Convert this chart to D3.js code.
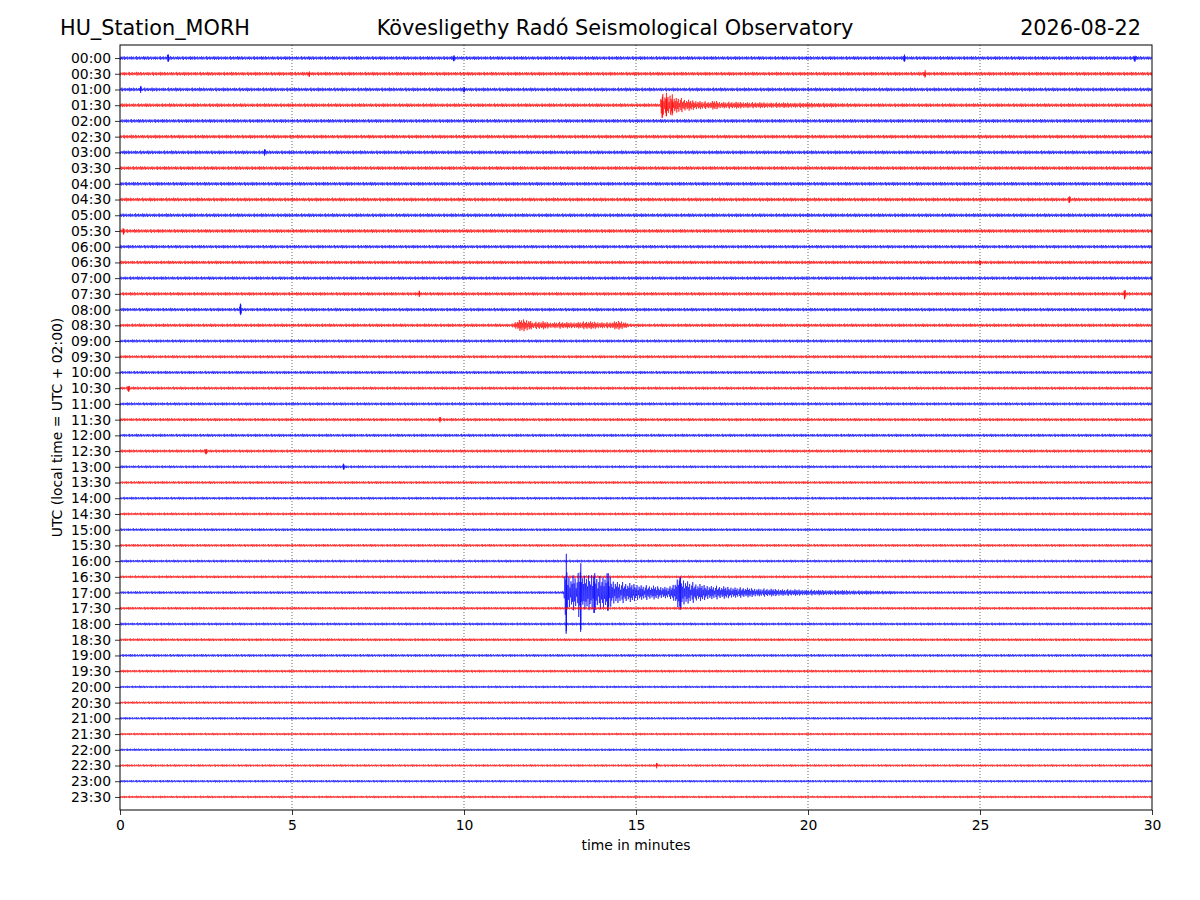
<!DOCTYPE html>
<html>
<head>
<meta charset="utf-8">
<script src="https://cdn.jsdelivr.net/npm/d3@7"></script>
<style>
  body { margin: 0; background: #fff; }
  svg { display: block; font-family: "DejaVu Sans", sans-serif; }
  .tick text { font-size: 13.9px; fill: #000; font-family: "DejaVu Sans", sans-serif; }
</style>
</head>
<body>
<svg id="heli" width="1200" height="900"></svg>
<script>
// --- Données ---
const station = "HU_Station_MORH";
const observatory = "Kövesligethy Radó Seismological Observatory";
const day = "2026-08-22";

const rowLabels = [
  "00:00","00:30","01:00","01:30","02:00","02:30","03:00","03:30",
  "04:00","04:30","05:00","05:30","06:00","06:30","07:00","07:30",
  "08:00","08:30","09:00","09:30","10:00","10:30","11:00","11:30",
  "12:00","12:30","13:00","13:30","14:00","14:30","15:00","15:30",
  "16:00","16:30","17:00","17:30","18:00","18:30","19:00","19:30",
  "20:00","20:30","21:00","21:30","22:00","22:30","23:00","23:30"
];
const xTicks = [0, 5, 10, 15, 20, 25, 30];

// niveau de bruit de fond par ligne (counts, 100 counts = un interligne)
const noiseLevel = [
  12, 12, 12, 12, 12, 12, 12, 12,
  12, 12, 12, 12, 11, 11, 11, 11,
  11, 11, 10, 10, 10, 10, 10, 10,
  10, 10, 9, 9, 9, 9, 9, 9,
  9, 9, 9, 9, 9, 9, 9, 9,
  8, 8, 8, 8, 8, 8, 8, 8
];

// enveloppes des séismes : [minute, ampl. haut, ampl. bas]
const event0130 = [
  [15.70, 12, 12], [15.76, 92, 80], [15.82, 65, 65], [15.88, 80, 70], [15.95, 60, 60],
  [16.05, 70, 65], [16.15, 50, 50], [16.25, 55, 55], [16.35, 42, 42], [16.50, 36, 36],
  [16.70, 30, 30], [16.90, 28, 28], [17.10, 22, 22], [17.30, 30, 30], [17.45, 22, 22],
  [17.80, 22, 22], [18.50, 19, 19], [19.50, 17, 17], [20.50, 15, 15], [21.50, 12, 12]
];
const event0830 = [
  [11.40, 11, 11], [11.55, 30, 30], [11.70, 40, 40], [11.90, 36, 36], [12.00, 22, 22],
  [12.30, 26, 26], [12.50, 19, 19], [12.80, 22, 22], [13.10, 19, 19], [13.60, 26, 26],
  [13.90, 22, 22], [14.20, 19, 19], [14.55, 30, 30], [14.70, 19, 19], [14.85, 11, 11]
];
const event1700 = [
  [12.90, 9, 9], [12.93, 125, 125], [12.97, 275, 262], [13.02, 120, 120], [13.10, 100, 100],
  [13.20, 130, 130], [13.30, 95, 95], [13.39, 230, 250], [13.45, 110, 110], [13.55, 105, 105],
  [13.65, 120, 120], [13.78, 145, 130], [13.90, 100, 100], [14.00, 110, 110], [14.19, 125, 115],
  [14.30, 85, 85], [14.50, 72, 72], [14.75, 62, 62], [15.00, 56, 56], [15.25, 48, 48],
  [15.50, 44, 44], [15.75, 40, 40], [16.00, 40, 40], [16.13, 68, 68], [16.28, 100, 112],
  [16.40, 88, 88], [16.60, 70, 70], [16.80, 56, 56], [17.00, 50, 50], [17.50, 40, 40],
  [18.00, 34, 34], [18.50, 27, 27], [19.00, 24, 24], [19.50, 21, 21], [20.40, 17, 17],
  [21.50, 14, 14], [23.00, 9, 9]
];
const events = [
  { row: 3, pts: event0130 },
  { row: 17, pts: event0830 },
  { row: 34, pts: event1700 }
];

// petites bouffées : [ligne, minute, amplitude]
const bursts = [
  [0, 1.4, 24], [0, 9.7, 20], [0, 22.8, 24], [0, 29.5, 22],
  [1, 23.4, 24], [1, 5.5, 18], [2, 0.6, 22], [2, 10.0, 18],
  [6, 4.2, 22], [9, 27.6, 22], [11, 0.1, 22], [13, 25.0, 18],
  [15, 8.7, 20], [15, 29.2, 34], [16, 3.5, 38], [21, 0.25, 22],
  [23, 9.3, 18], [25, 2.5, 20], [26, 6.5, 20], [45, 15.6, 18]
];

// motif de rendu du tracé (relief des oscillations, par aller-retour)
const wiggle = [
  1.0, 0.55, 0.8, 0.35, 0.95, 0.6, 0.4, 0.85, 0.3, 0.7, 0.5, 0.9,
  0.45, 0.75, 0.25, 0.65, 1.0, 0.4, 0.6, 0.85, 0.35, 0.7, 0.5
];

// --- Mise en page ---
const svg = d3.select("#heli");
const margin = { left: 120, right: 48, top: 45, bottom: 90 };
const W = 1200, H = 900;

const x = d3.scaleLinear().domain([0, 30]).range([margin.left, W - margin.right]);
const y = d3.scaleLinear().domain([-0.83, 47.83]).range([margin.top, H - margin.bottom]);
const rowStep = y(1) - y(0);
const amp = d3.scaleLinear().domain([0, 100]).range([0, rowStep]);

svg.append("defs").append("clipPath").attr("id", "plot-clip")
  .append("rect")
  .attr("x", x(0)).attr("y", y(-0.83))
  .attr("width", x(30) - x(0)).attr("height", y(47.83) - y(-0.83));

// grille verticale pointillée
svg.append("g").selectAll("line")
  .data(xTicks.slice(1, -1))
  .join("line")
  .attr("x1", d => x(d)).attr("x2", d => x(d))
  .attr("y1", y(-0.83)).attr("y2", y(47.83))
  .attr("stroke", "#000").attr("stroke-width", 0.6)
  .attr("stroke-dasharray", "1,2");

// enveloppe d'une ligne à l'instant t
function envelopeFor(row) {
  const base = noiseLevel[row];
  const scales = events.filter(e => e.row === row).map(e => ({
    t0: e.pts[0][0], t1: e.pts[e.pts.length - 1][0],
    up: d3.scaleLinear().domain(e.pts.map(p => p[0])).range(e.pts.map(p => p[1])),
    dn: d3.scaleLinear().domain(e.pts.map(p => p[0])).range(e.pts.map(p => p[2]))
  }));
  const bs = bursts.filter(b => b[0] === row).map(b => ({
    t0: b[1] - 0.05, t1: b[1] + 0.05,
    s: d3.scaleLinear().domain([b[1] - 0.05, b[1], b[1] + 0.05]).range([base, b[2], base])
  }));
  return t => {
    let u = base, d = base;
    scales.forEach(s => {
      if (t >= s.t0 && t <= s.t1) { u = Math.max(u, s.up(t)); d = Math.max(d, s.dn(t)); }
    });
    bs.forEach(b => {
      if (t >= b.t0 && t <= b.t1) { const v = b.s(t); u = Math.max(u, v); d = Math.max(d, v); }
    });
    return [u, d];
  };
}

// pas de rendu du tracé
const grid = d3.range(0, 30.0001, 0.015).map(t => ({ t, key: false }));

const traces = svg.append("g").attr("clip-path", "url(#plot-clip)");
rowLabels.forEach((lab, row) => {
  const env = envelopeFor(row);
  const keys = [];
  events.filter(e => e.row === row).forEach(e => e.pts.forEach(p => {
    if (p[1] !== p[2]) keys.push({ t: p[0], key: true }, { t: p[0] + 0.006, key: true });
  }));
  bursts.filter(b => b[0] === row).forEach(b => {
    keys.push({ t: b[1], key: true }, { t: b[1] + 0.006, key: true });
  });
  const samples = grid.concat(keys).sort((a, b) => a.t - b.t);
  const pts = samples.map((s, i) => {
    const [u, d] = env(s.t);
    const k = s.key ? 1 : wiggle[((i >> 1) + row * 7) % wiggle.length];
    return { t: s.t, v: i % 2 === 0 ? u * k : -d * k };
  });
  const line = d3.line().x(p => x(p.t)).y(p => y(row) - amp(p.v));
  traces.append("path")
    .attr("d", line(pts))
    .attr("fill", "none")
    .attr("stroke", row % 2 === 0 ? "#0000ff" : "#ff0000")
    .attr("stroke-width", 0.6);
});

// cadre
svg.append("rect")
  .attr("x", x(0)).attr("y", y(-0.83))
  .attr("width", x(30) - x(0)).attr("height", y(47.83) - y(-0.83))
  .attr("fill", "none").attr("stroke", "#000").attr("stroke-width", 1);

// axes
const xAxis = svg.append("g")
  .attr("transform", `translate(0,${y(47.83)})`)
  .call(d3.axisBottom(x).tickValues(xTicks).tickFormat(d3.format("d")).tickSize(5).tickPadding(5));
xAxis.select(".domain").remove();

const yAxis = svg.append("g")
  .attr("transform", `translate(${x(0)},0)`)
  .call(d3.axisLeft(y).tickValues(d3.range(48)).tickFormat(i => rowLabels[i]).tickSize(5).tickPadding(4));
yAxis.select(".domain").remove();
svg.selectAll(".tick line").attr("stroke", "#000").attr("stroke-width", 0.8);
[xAxis, yAxis].forEach(a => a.attr("font-family", "DejaVu Sans").attr("font-size", 13.9));

// titres
svg.append("text").attr("x", 60).attr("y", 35)
  .style("font-size", "20.8px").text(station);
svg.append("text").attr("x", 615).attr("y", 35).attr("text-anchor", "middle")
  .style("font-size", "20.8px").text(observatory);
svg.append("text").attr("x", 1141).attr("y", 35).attr("text-anchor", "end")
  .style("font-size", "20.8px").text(day);

svg.append("text").attr("x", (x(0) + x(30)) / 2).attr("y", 850)
  .attr("text-anchor", "middle").style("font-size", "13.9px")
  .text("time in minutes");
svg.append("text")
  .attr("transform", `translate(62,${(y(-0.83) + y(47.83)) / 2}) rotate(-90)`)
  .attr("text-anchor", "middle").style("font-size", "13.9px")
  .text("UTC (local time = UTC + 02:00)");
</script>
</body>
</html>
